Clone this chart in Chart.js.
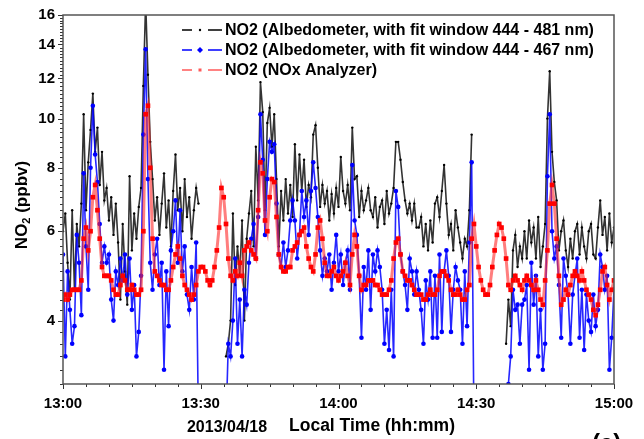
<!DOCTYPE html>
<html>
<head>
<meta charset="utf-8">
<script src="https://cdn.jsdelivr.net/npm/chart.js@4.4.1/dist/chart.umd.min.js"></script>
<style>
  html, body { margin: 0; padding: 0; background: #fff; }
  #wrap { width: 644px; height: 439px; position: relative; }
</style>
</head>
<body>
<div id="wrap"><canvas id="chart"></canvas></div>
<script>
// NO2 on 2013/04/18, one reading every 30 s from 13:00 to 15:00 (null = no data)
const stepMin = 0.5;
const xTickLabels = ['13:00', '13:30', '14:00', '14:30', '15:00'];
const yTickLabels = [4, 6, 8, 10, 12, 14, 16];
const seriesNames = [
  'NO2 (Albedometer, with fit window 444 - 481 nm)',
  'NO2 (Albedometer, with fit window 444 - 467 nm)',
  'NO2 (NOx Analyzer)'
];

const no2Fit481 = [
  6.0, 6.5, 5.2, 4.4, 6.6, 4.6, 6.2, 5.6, 6.8,
  10.2, 6.6, 8.2, 9.5, 11.2, 8.6, 9.6, 7.4, 8.6, 6.9,
  7.3, 6.3, 7.0, 5.9, 6.8, 5.7, 4.4, 6.2, 5.0, 4.3, 7.7, 5.5, 6.5, 5.8, 6.7, 7.3,
  11.6, 17, 12.2, 9.0, 7.6, 6.3,
  7.0, 5.9, 6.8, 7.8, 6.1, 6.9, 5.6, 7.2, 8.5, 6.6, 7.3, 6.0, 7.6, 6.4, 7.0, 5.8, 6.6, 7.3, 6.8,
  null, null, null, null, null, null, null, null, null, null, null,
  3.4, 3.6, 4.0, 6.5, 4.7, 5.6, 4.9, 6.3, 4.0, 5.8, 6.5, 7.2, 5.6, 8.8, 6.9, 11.8,
  10.3, 6.6, 9.8, 10.5, 8.8, 10.2, 7.6, 5.6, 7.2, 6.3, 7.6, 6.5, 7.4, 6.4,
  8.9, 6.9, 8.5, 7.2, 8.3, 6.7, 7.4, 7.0, 9.3, 9.7, 8.0, 6.7, 7.4, 6.8, 7.2, 6.3, 7.1, 6.5, 7.3, 6.7, 8.4, 7.2, 6.8, 7.4, 6.6, 9.6,
  7.6, 7.7, 6.4, 7.2, 6.6, 6.9, 7.3, 6.6, 6.4, 7.0, 6.1, 6.7, 6.9, 6.2, 7.2, 6.5, 6.8, 7.3, 9.0, 9.0, 8.3, 7.5, 6.9, 6.5, 6.8, 6.3, 6.8, 6.1,
  6.1, 6.4, 5.6, 6.2, 5.5, 6.3, 5.7, 6.8, 7.0, 6.4, 7.2, 8.1, 6.8, 5.9, 6.2, 5.5, 6.6, 6.1, 5.7, 5.3, 5.8, 5.6, 6.6, 9.3,
  null, null, null, null, null, null, null, null, null, null, null, null, null, null,
  3.6, 4.4, 3.9, 5.5, 5.9, 5.1, 5.6, 5.3, 6.0, 5.3, 6.3, 5.7, 6.1, 5.3, 6.4, 5.1, 5.6, 6.2, 10.0, 12.4,
  8.6, 7.5, 6.9, 5.5, 6.0, 6.3, 5.5, 5.1, 5.8, 5.3, 6.0, 6.2, 5.4, 6.1, 5.6, 5.3, 6.0, 6.2, 5.4, 5.3, 6.1, 6.9, 5.9, 6.4, 5.5, 6.5, 5.7, 6.1
];

const no2Fit467 = [
  5.4, 3.4, 5.0, 4.2, 3.6, 3.9, 5.9, 5.2, 4.1,
  7.8, 5.6, 4.6, 8.0, 10.6, 8.5, 7.5, 6.2, 5.2, 5.6,
  5.2, 5.4, 4.4, 4.0, 5.0, 4.7, 5.3, 4.8, 5.4, 4.5, 5.3, 4.2, 4.7, 3.4, 3.8, 4.9,
  9.3, 13.7, 7.6, 5.2, 4.6, 5.4,
  5.8, 4.7, 5.2, 3.2, 5.0, 3.9, 5.5, 6.0, 6.9, 5.2, 6.6, 5.0, 5.6, 4.5, 4.2, 5.1, 4.4, 5.7, 2.5,
  null, null, null, null, null, null, null, null, null, null, null,
  2.5, 3.6, 3.4, 4.0, 5.3, 3.6, 4.4, 3.4, 4.6, 4.3, 5.2, 5.8, 6.2, 5.3, 6.4, 10.2,
  8.3, 5.9, 7.6, 9.0, 8.6, 8.9, 6.8, 5.4, 5.1, 5.7, 5.1, 5.5, 6.3, 6.9,
  6.3, 5.3, 5.9, 7.2, 6.4, 6.9, 5.9, 7.2, 8.2, 7.3, 6.4, 5.5, 4.9, 5.3, 5.0, 5.4, 4.6, 5.2, 5.9, 5.0, 5.4, 4.7, 5.2, 5.5, 4.6, 8.1,
  6.3, 5.9, 4.9, 3.7, 5.1, 4.6, 5.5, 4.2, 5.4, 5.0, 5.5, 5.1, 4.6, 3.6, 4.2, 3.5, 4.6, 3.4, 7.2, 6.7, 5.4, 5.0, 4.7, 4.2, 5.3, 5.0, 4.5, 5.0,
  4.6, 4.2, 3.6, 4.8, 4.4, 5.0, 3.7, 4.9, 3.7, 5.4, 3.8, 5.0, 5.5, 4.9, 3.8, 4.6, 5.1, 4.8, 4.6, 3.6, 5.0, 3.9, 5.7, 8.2, 2.5,
  null, null, null, null, null, null, null, null, null, null, null, null, null,
  2.5, 3.0, 3.4, 4.6, 4.2, 4.3, 3.6, 4.3, 4.4, 4.7, 3.2, 5.2, 4.3, 4.9, 3.4, 4.2, 3.2, 3.6, 7.7, 10.2,
  6.0, 5.3, 5.6, 4.7, 3.7, 5.3, 4.9, 4.5, 3.6, 4.5, 4.9, 5.3, 3.7, 4.6, 3.5, 4.5, 4.0, 3.8, 4.5, 3.9, 4.2, 5.4, 5.1, 4.6, 4.9, 3.2, 3.7, 4.6
];

const no2Analyzer = [
  4.4, 4.5, 4.4, 4.5, 4.6, 4.6, 4.6, 4.6, 4.8,
  5.8, 6.1, 5.5, 6.0, 7.0, 7.4, 6.6, 5.8, 5.1, 4.9,
  4.9, 4.9, 4.8, 4.6, 4.5, 4.5, 4.7, 4.9, 4.8, 4.6, 4.6, 4.7, 4.6, 4.5, 4.5, 4.6,
  6.0, 10.2, 10.6, 8.0, 5.8, 5.0,
  4.9, 4.8, 4.7, 4.7, 4.6, 4.6, 4.8, 5.1, 5.4, 5.6, 5.3, 4.9, 4.7, 4.6, 4.5, 4.4, 4.5, 4.7, 5.0,
  5.1, 5.1, 5.0, 4.8, 4.7, 4.8, 5.1, 5.5, 6.1, 7.3, 7.0, 6.2, 5.3,
  4.9, 4.8, 5.0, 4.9, 5.2, 4.9, 5.5, 5.6, 5.7, 5.5, 5.4, 5.3, 6.6, 8.2,
  7.8, 6.3, 6.0, 7.0, 7.6, 7.5, 6.4, 5.4, 5.1, 5.0, 5.0, 5.1, 5.1, 5.5,
  5.6, 5.7, 5.9, 6.0, 6.1, 5.6, 5.3, 5.1, 5.0, 5.4, 6.1, 6.3, 5.8, 5.2, 4.9, 4.9, 5.0, 5.1, 4.9, 4.8, 4.9, 5.0, 5.2, 4.9, 4.7, 5.4,
  5.9, 5.6, 4.9, 4.6, 4.7, 4.7, 4.8, 4.8, 4.8, 4.7, 4.7, 4.6, 4.5, 4.5, 4.5, 4.6, 4.8, 5.3, 5.7, 5.8, 5.4, 5.0, 4.9, 4.8, 4.8, 4.7, 4.6, 4.5,
  4.5, 4.5, 4.4, 4.4, 4.5, 4.6, 4.5, 4.5, 4.6, 4.9, 5.0, 5.0, 4.9, 4.8, 4.6, 4.5, 4.5, 4.6, 4.5, 4.4, 4.4, 4.6, 4.7, 5.8, 6.2,
  5.6, 5.1, 4.8, 4.6, 4.5, 4.5, 4.7, 5.1, 5.5, 5.9, 6.2, 6.1, 5.8,
  5.3, 4.7, 4.6, 4.8, 4.9, 4.8, 4.7, 4.6, 4.8, 4.9, 4.8, 4.7, 4.6, 4.8, 4.6, 4.4, 4.3, 4.8, 5.5, 6.8,
  7.4, 6.8, 5.8, 4.9, 4.3, 4.4, 4.6, 4.5, 4.7, 4.9, 5.0, 4.9, 4.8, 5.0, 4.8, 4.6, 4.5, 4.4, 4.2, 4.1, 4.3, 4.6, 5.0, 5.1, 4.7, 4.4, 4.6, 4.8
];

const FONT = "'Liberation Sans', Arial, sans-serif";

function toPoints(values) {
  return values.map((v, i) => ({ x: i * stepMin, y: v }));
}

// frame around the plot + tick marks (long major, short minor)
const frameTicks = {
  id: 'frameTicks',
  afterDraw(chart) {
    const ctx = chart.ctx;
    const a = chart.chartArea;
    const xs = chart.scales.x, ys = chart.scales.y;
    ctx.save();
    ctx.strokeStyle = '#333';
    ctx.lineWidth = 1;
    xs.ticks.forEach(t => {
      const px = Math.round(xs.getPixelForValue(t.value)) + 0.5;
      const len = t.label ? 5 : 3;
      ctx.beginPath();
      ctx.moveTo(px, a.bottom);
      ctx.lineTo(px, a.bottom + len);
      ctx.stroke();
    });
    ys.ticks.forEach(t => {
      const py = Math.round(ys.getPixelForValue(t.value)) + 0.5;
      const len = t.label ? 5 : 3;
      ctx.beginPath();
      ctx.moveTo(a.left, py);
      ctx.lineTo(a.left - len, py);
      ctx.stroke();
    });
    ctx.strokeStyle = '#555';
    ctx.lineWidth = 1.5;
    ctx.strokeRect(a.left, a.top, a.right - a.left, a.bottom - a.top);
    ctx.restore();
  }
};

// legend inside the plot, titles and date stamp
const annotations = {
  id: 'annotations',
  afterDraw(chart) {
    const ctx = chart.ctx;
    ctx.save();

    const rows = [
      { color: '#000', marker: 'dot' },
      { color: '#0000ff', marker: 'diamond' },
      { color: 'rgba(255,60,60,0.85)', marker: 'square' }
    ];
    const lx = 182, ly = 30, dy = 20;
    rows.forEach((r, i) => {
      const y = ly + i * dy;
      ctx.strokeStyle = r.color;
      ctx.fillStyle = r.color;
      ctx.lineWidth = 1.3;
      ctx.beginPath();
      ctx.moveTo(lx, y); ctx.lineTo(lx + 10, y);
      ctx.moveTo(lx + 26, y); ctx.lineTo(lx + 40, y);
      ctx.stroke();
      const cx = lx + 18;
      ctx.beginPath();
      if (r.marker === 'dot') ctx.arc(cx, y, 1.2, 0, Math.PI * 2);
      else if (r.marker === 'diamond') {
        ctx.moveTo(cx, y - 3); ctx.lineTo(cx + 3, y); ctx.lineTo(cx, y + 3); ctx.lineTo(cx - 3, y);
        ctx.closePath();
      } else ctx.rect(cx - 1.5, y - 1.5, 3, 3);
      ctx.fill();
      ctx.fillStyle = '#000';
      ctx.font = 'bold 16px ' + FONT;
      ctx.textBaseline = 'middle';
      ctx.textAlign = 'left';
      ctx.fillText(seriesNames[i], lx + 43, y + 1);
    });

    // y title: NO2 with subscript
    ctx.save();
    ctx.translate(22, 205);
    ctx.rotate(-Math.PI / 2);
    ctx.textBaseline = 'middle';
    ctx.textAlign = 'left';
    const big = 'bold 17px ' + FONT, small = 'bold 11px ' + FONT;
    ctx.font = big;
    const w1 = ctx.measureText('NO').width;
    const w3 = ctx.measureText(' (ppbv)').width;
    ctx.font = small;
    const w2 = ctx.measureText('2').width;
    const x0 = -(w1 + w2 + w3) / 2;
    ctx.fillStyle = '#000';
    ctx.font = big; ctx.fillText('NO', x0, 0);
    ctx.font = small; ctx.fillText('2', x0 + w1, 5);
    ctx.font = big; ctx.fillText(' (ppbv)', x0 + w1 + w2, 0);
    ctx.restore();

    ctx.fillStyle = '#000';
    ctx.textBaseline = 'middle';
    ctx.textAlign = 'center';
    ctx.font = 'bold 17.5px ' + FONT;
    ctx.fillText('Local Time (hh:mm)', 372, 426);
    ctx.font = 'bold 16px ' + FONT;
    ctx.fillText('2013/04/18', 227, 428);
    ctx.font = 'bold 24px ' + FONT;
    ctx.textAlign = 'left';
    ctx.fillText('(a)', 592, 444);
    ctx.restore();
  }
};

new Chart(document.getElementById('chart'), {
  type: 'line',
  data: {
    datasets: [
      {
        label: seriesNames[0],
        data: toPoints(no2Fit481),
        borderColor: 'rgba(0,0,0,0.8)',
        borderWidth: 1.6,
        pointRadius: 1.2,
        pointBorderWidth: 0,
        pointBackgroundColor: '#000',
        order: 3
      },
      {
        label: seriesNames[1],
        data: toPoints(no2Fit467),
        borderColor: 'rgba(0,0,255,0.85)',
        borderWidth: 1.6,
        pointRadius: 2.3,
        pointBorderWidth: 0,
        pointBackgroundColor: '#0000ff',
        order: 2
      },
      {
        label: seriesNames[2],
        data: toPoints(no2Analyzer),
        borderColor: 'rgba(255,40,40,0.6)',
        borderWidth: 3,
        pointStyle: 'rect',
        pointRadius: 3.3,
        pointBorderWidth: 0,
        pointBackgroundColor: '#ff0000',
        order: 1
      }
    ]
  },
  options: {
    responsive: true,
    maintainAspectRatio: false,
    devicePixelRatio: 1,
    animation: false,
    spanGaps: false,
    layout: { padding: { top: 15, right: 30, left: 0, bottom: 0 } },
    plugins: {
      legend: { display: false },
      tooltip: { enabled: false }
    },
    scales: {
      x: {
        type: 'linear',
        min: 0,
        max: 120,
        grid: { display: false, drawTicks: true, tickLength: 5 },
        border: { display: false },
        ticks: {
          stepSize: 5,
          autoSkip: false,
          maxRotation: 0,
          padding: 6,
          color: '#000',
          font: { family: FONT, size: 15, weight: 'bold' },
          callback: v => (v % 30 === 0 ? xTickLabels[v / 30] : '')
        },
        afterFit: s => { s.height = 55; }
      },
      y: {
        type: 'logarithmic',
        min: 3,
        max: 16,
        grid: { display: false, drawTicks: true, tickLength: 5 },
        border: { display: false },
        ticks: {
          autoSkip: false,
          padding: 3,
          color: '#000',
          font: { family: FONT, size: 15, weight: 'bold' },
          callback: v => (yTickLabels.includes(v) ? String(v) : '')
        },
        afterBuildTicks: s => {
          const t = [];
          for (let k = 15; k <= 80; k++) t.push({ value: k / 5 });
          s.ticks = t;
        },
        afterFit: s => { s.width = 63; }
      }
    }
  },
  plugins: [frameTicks, annotations]
});
</script>
</body>
</html>
